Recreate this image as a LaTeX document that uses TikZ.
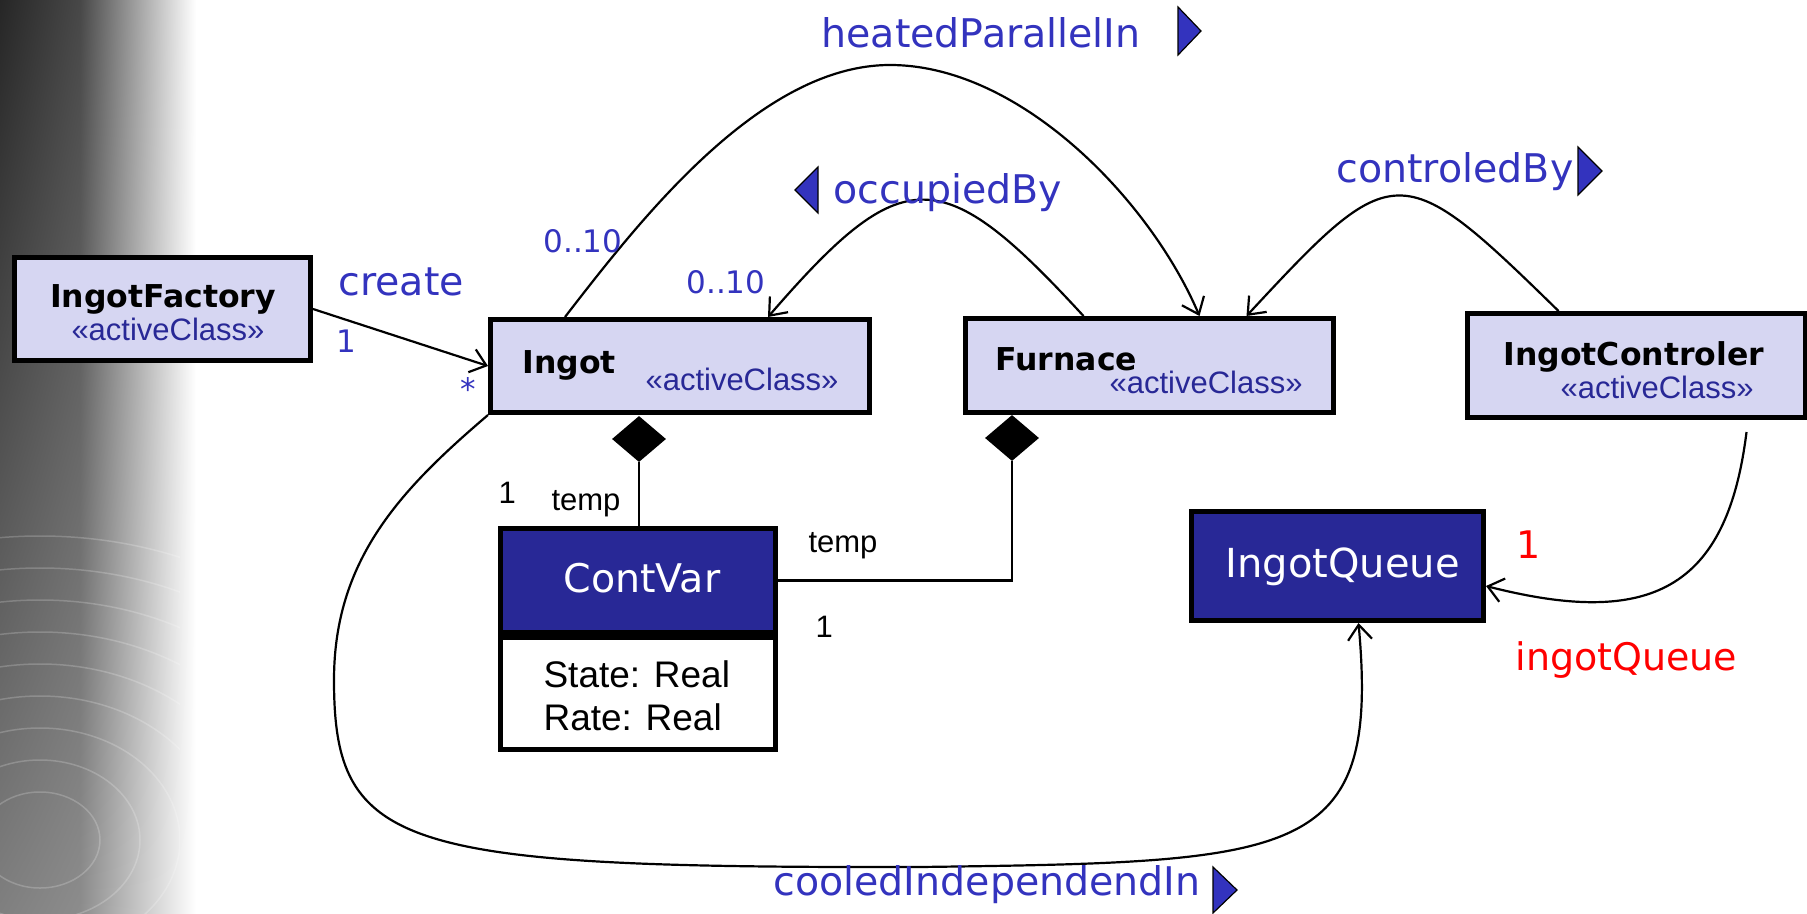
\documentclass[tikz,border=0pt]{standalone}
\usepackage{fontspec}
\setmainfont{Liberation Sans}
\newfontfamily\comic{DejaVu Sans}
\usetikzlibrary{arrows.meta,shapes.geometric,shadings}
\definecolor{boxfill}{RGB}{214,214,242}
\definecolor{clsblue}{RGB}{40,40,150}
\definecolor{lblblue}{RGB}{51,51,190}
\begin{document}
\begin{tikzpicture}[x=1pt, y=-1pt,
    box/.style={draw, line width=5pt, fill=boxfill, inner sep=0pt},
    darkbox/.style={box, fill=clsblue},
    clsname/.style={font=\comic\bfseries\fontsize{31.5}{32}\selectfont, anchor=base west},
    stereo/.style={font=\fontsize{31}{31}\selectfont, text=clsblue, anchor=base west},
    assoc/.style={font=\comic\fontsize{39.5}{40}\selectfont, text=lblblue, anchor=base west},
    mult/.style={font=\comic\fontsize{31}{31}\selectfont, text=lblblue, anchor=base west},
    role/.style={font=\fontsize{31}{31}\selectfont, anchor=base west},
    compo/.style={diamond, fill=black, inner sep=0pt, minimum width=54pt, minimum height=46pt},
    link/.style={line width=2.2pt},
    nav/.style={link, -{Straight Barb[length=15pt, width=24pt]}},
    dirmark/.style={fill=lblblue, draw=black, line width=1.2pt}]
    \useasboundingbox (0,0) rectangle (1807,913);
    % background strip on the left
    \shade[upper left=black!85, upper right=black!72, lower left=black!50, lower right=black!45] (0,0) rectangle (80,913);
    \shade[upper left=black!72, upper right=white, lower left=black!45, lower right=white] (80,0) rectangle (196,913);
    \begin{scope}
        \clip (0,380) rectangle (180,913);
        \foreach \r in {60,100,...,380}
            \draw[white, opacity=0.2, line width=1.5pt] (40,840) circle ({\r pt} and {0.8*\r pt});
    \end{scope}

    % classes
    \node[box, minimum width=296pt, minimum height=103pt] (factory) at (162.5,309) {};
    \node[box, minimum width=379pt, minimum height=93pt] (ingot) at (680,366) {};
    \node[box, minimum width=368pt, minimum height=94pt] (furnace) at (1149.5,365.5) {};
    \node[box, minimum width=338pt, minimum height=104pt] (ctrl) at (1636.5,365.5) {};
    \node[darkbox, minimum width=275pt, minimum height=104pt] (cvhead) at (638,580.5) {};
    \node[box, fill=white, minimum width=275pt, minimum height=112pt] (cvbody) at (638,693.5) {};
    \node[darkbox, minimum width=292pt, minimum height=109pt] (queue) at (1337.5,566) {};

    \node[clsname, anchor=base] (factoryName) at (163,307) {IngotFactory};
    \node[stereo, anchor=base] (factoryStereo) at (168,340) {«activeClass»};
    \node[clsname] (ingotName) at (519,373) {Ingot};
    \node[stereo] (ingotStereo) at (642,390) {«activeClass»};
    \node[clsname] (furnaceName) at (992,370) {Furnace};
    \node[stereo] (furnaceStereo) at (1106,393) {«activeClass»};
    \node[clsname] (ctrlName) at (1500,365) {IngotControler};
    \node[stereo] (ctrlStereo) at (1557,398) {«activeClass»};
    \node[assoc, text=white, anchor=base] (cvName) at (642,592) {ContVar};
    \node[role, font=\fontsize{37}{43}\selectfont] (cvState) at (540,687) {State: Real};
    \node[role, font=\fontsize{37}{43}\selectfont] (cvRate) at (540,730) {Rate: Real};
    \node[assoc, text=white, font=\comic\fontsize{40}{40}\selectfont] (queueName) at (1222,577) {IngotQueue};

    % compositions
    \node[compo] (compIngot) at (639,439) {};
    \node[compo] (compFurnace) at (1012,438) {};
    \draw[link] (compIngot.south) -- (compIngot.south |- cvhead.north);
    \draw[link] (compFurnace.south) |- (cvhead.east);
    \node[role] (tempIngot) at (548,510) {temp};
    \node[role] (oneIngot) at (495,503) {1};
    \node[role] (tempFurnace) at (805,552) {temp};
    \node[role] (oneFurnace) at (812,637) {1};

    % associations
    \draw[nav] (factory.east) -- (ingot.west);
    \node[assoc] (create) at (335,295) {create};
    \node[mult] (createOne) at (333,352) {1};
    \node[mult] (createMany) at (457,400) {*};

    \draw[nav] ([xshift=-115pt]ingot.north) .. controls (640,220) and (760,65) .. (890,65)
        .. controls (1020,65) and (1150,200) .. ([xshift=50pt]furnace.north);
    \node[assoc] (heated) at (818,47) {heatedParallelIn};
    \draw[dirmark] (1178,7) -- (1201,31) -- (1178,55) -- cycle;
    \node[mult] (heatedMult) at (540,252) {0..10};

    \draw[nav] ([xshift=-66pt]furnace.north) .. controls (941,161) and (903,161) .. ([xshift=88pt]ingot.north);
    \node[assoc] (occupied) at (830,203) {occupiedBy};
    \draw[dirmark] (818,167) -- (795,190) -- (818,213) -- cycle;
    \node[mult] (occupiedMult) at (683,293) {0..10};

    \draw[nav] ([xshift=-78pt]ctrl.north) .. controls (1400,156) and (1394,157) .. ([xshift=97pt]furnace.north);
    \node[assoc] (controled) at (1333,182) {controledBy};
    \draw[dirmark] (1578,147) -- (1602,171) -- (1578,195) -- cycle;

    \draw[nav] ([xshift=110pt, yshift=-12pt]ctrl.south) .. controls (1727,590) and (1650,628) .. ([yshift=-20pt]queue.east);
    \node[assoc, text=red, font=\comic\fontsize{38}{38}\selectfont] (queueOne) at (1513,558) {1};
    \node[assoc, text=red, font=\comic\fontsize{38}{38}\selectfont] (queueRole) at (1512,670) {ingotQueue};

    \draw[nav] (ingot.south west) .. controls (400,490) and (334,560) .. (334,680)
        .. controls (334,850) and (400,868) .. (920,867)
        .. controls (1300,862) and (1380,860) .. ([xshift=21pt]queue.south);
    \node[assoc] (cooled) at (770,895) {cooledIndependendIn};
    \draw[dirmark] (1213,867) -- (1237,890) -- (1213,913) -- cycle;
\end{tikzpicture}
\end{document}
